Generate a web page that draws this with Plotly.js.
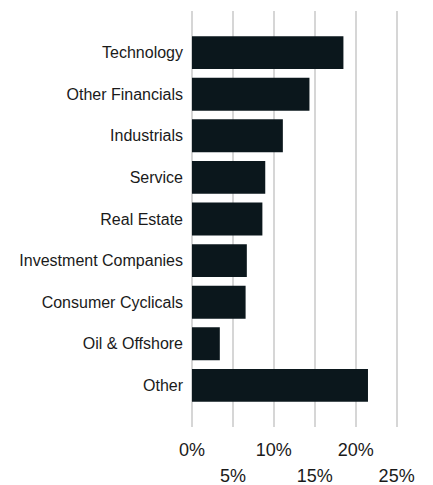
<!DOCTYPE html>
<html>
<head>
<meta charset="utf-8">
<script src="https://cdn.plot.ly/plotly-3.0.1.min.js"></script>
<style>html,body{margin:0;padding:0;background:#fff;}#chart{width:433px;height:485px;}</style>
</head>
<body>
<div id="chart"></div>
<script>
const categories = ["Technology", "Other Financials", "Industrials", "Service", "Real Estate", "Investment Companies", "Consumer Cyclicals", "Oil & Offshore", "Other"];
const values = [18.5, 14.35, 11.1, 8.95, 8.6, 6.7, 6.55, 3.4, 21.5];
const tickValsRow1 = [0, 10, 20];
const tickTextRow1 = ["0%", "10%", "20%"];
const tickValsRow2 = [5, 15, 25];
const tickTextRow2 = ["5%", "15%", "25%"];

const font = "Liberation Sans, Arial, sans-serif";
const gridColor = "#d6d6d6";
const data = [{
  type: "bar",
  orientation: "h",
  x: values,
  y: categories,
  width: 0.79,
  marker: {color: "#0b171c"},
  hoverinfo: "none"
}, {
  type: "scatter",
  x: [0],
  y: [categories[0]],
  xaxis: "x2",
  mode: "markers",
  marker: {opacity: 0},
  hoverinfo: "none",
  showlegend: false
}];
const layout = {
  width: 433, height: 485,
  margin: {l: 191, r: 20, t: 11, b: 58},
  paper_bgcolor: "#fff", plot_bgcolor: "#fff",
  showlegend: false,
  font: {family: font, color: "#1a1a1a"},
  xaxis: {
    range: [-0.12, 27],
    tickvals: [0, 5, 10, 15, 20, 25],
    ticktext: ["0%", "", "10%", "", "20%", ""],
    showgrid: true, gridcolor: gridColor, gridwidth: 2,
    zeroline: true, zerolinecolor: gridColor, zerolinewidth: 2,
    showline: false, ticks: "",
    ticklabelstandoff: 10,
    tickfont: {size: 18, family: font, color: "#1a1a1a"},
    fixedrange: true
  },
  xaxis2: {
    overlaying: "x", side: "bottom", anchor: "y",
    range: [-0.12, 27],
    tickvals: tickValsRow2, ticktext: tickTextRow2,
    showgrid: false, zeroline: false, showline: false, ticks: "",
    ticklabelstandoff: 36,
    tickfont: {size: 18, family: font, color: "#1a1a1a"},
    fixedrange: true
  },
  yaxis: {
    type: "category",
    range: [9, -1],
    showgrid: false, zeroline: false, showline: false, ticks: "",
    ticklabelstandoff: 7,
    tickfont: {size: 16, family: font, color: "#1a1a1a"},
    fixedrange: true
  },
  bargap: 0.2
};
Plotly.newPlot("chart", data, layout, {displayModeBar: false, staticPlot: true});
</script>
</body>
</html>
